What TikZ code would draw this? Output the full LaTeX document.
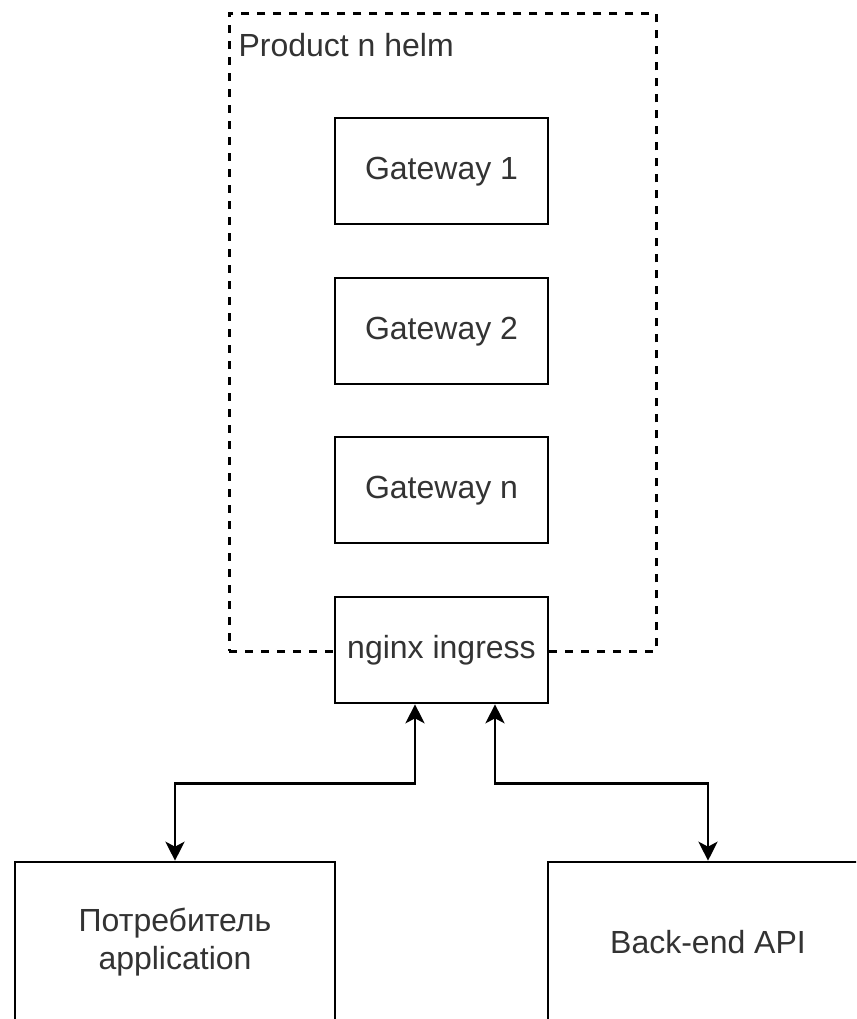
\documentclass[tikz,border=0pt]{standalone}
\usepackage{fontspec}
\setmainfont{Liberation Sans}
\usetikzlibrary{arrows.meta}
\definecolor{ink}{HTML}{333333}
\begin{document}
\begin{tikzpicture}[x=1pt,y=-1pt,
  every node/.style={font=\fontsize{32}{38.4}\selectfont, text=ink},
  block/.style={draw=black, line width=2.6pt, fill=white, inner sep=0pt,
    minimum width=213pt, minimum height=106pt, align=center,
    text height=23pt, text depth=7pt},
  panel/.style={block, minimum width=320pt, minimum height=160pt, text height=, text depth=},
  group/.style={draw=black, line width=2.6pt, dash pattern=on 8pt off 8pt,
    inner sep=0pt, minimum width=427pt, minimum height=638pt},
  link/.style={draw=black, line width=2.6pt,
    {Stealth[length=19pt,width=19pt,inset=5pt]}-{Stealth[length=19pt,width=19pt,inset=5pt]}}
]
\useasboundingbox (0,0) rectangle (856,1019);
\clip (0,0) rectangle (856,1019);
\fill[white] (0,0) rectangle (856,1019);

% helm chart boundary and its title
\node[group, anchor=north west] (helm) at (228,12) {};
\node[anchor=base west] (title) at (235,57) {Product n helm};

% gateways and ingress
\node[block] (gw1) at (441.5,171) {Gateway 1};
\node[block] (gw2) at (441.5,331) {Gateway 2};
\node[block] (gwn) at (441.5,490) {Gateway n};
\node[block] (ing) at (441.5,650) {nginx ingress};

% external parties
\node[panel] (app) at (175,942) {Потребитель\\application};
\node[panel] (api) at (708,942) {Back-end API};

% traffic through the ingress
\draw[link] ([xshift=-26.5pt]ing.south) -- ++(0,79) -| (app.north);
\draw[link] ([xshift=53.5pt]ing.south) -- ++(0,79) -| (api.north);
\end{tikzpicture}
\end{document}
